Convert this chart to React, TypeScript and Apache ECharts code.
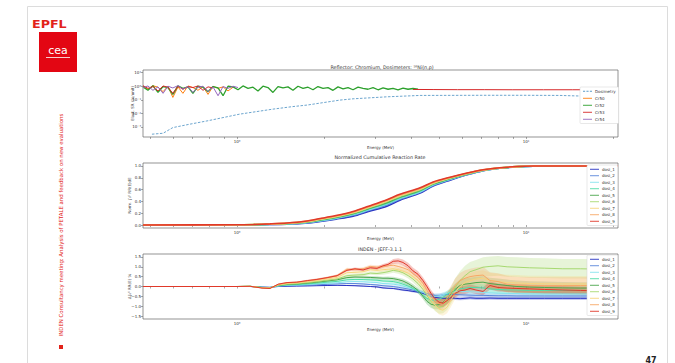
import React, { useEffect, useRef } from 'react';
import * as echarts from 'echarts';

const FONT = 'DejaVu Sans';
const E_MIN = 0.473;
const E_MAX = 20.8;

// ---------- axis ticks ----------
const X_TICKS = [0.5, 0.6, 0.7, 0.8, 0.9, 1, 2, 3, 4, 5, 6, 7, 8, 9, 10, 20];
const X_LABELS = [1, 10];
const Y1_TICKS = [0.001, 0.01, 0.1, 1, 10];
const Y2_TICKS = [0, 0.2, 0.4, 0.6, 0.8, 1.0];
const Y3_TICKS = [-1.5, -1.0, -0.5, 0, 0.5, 1.0, 1.5];

// ---------- chart 1 : Reflector Chromium ----------
const DOSI_E = [0.508, 0.555, 0.6, 0.688, 0.787, 1.02, 1.33, 1.56, 1.75, 2.27, 2.52, 3.3, 4.3, 6.9, 10, 13.1, 15.4, 18, 20.8];
const DOSI_V = [2.9e-4, 3.4e-4, 8.9e-4, 1.6e-3, 2.75e-3, 8.7e-3, 0.0204, 0.0316, 0.041, 0.095, 0.118, 0.166, 0.21, 0.215, 0.215, 0.21, 0.19, 0.175, 0.165];
const E1 = [0.473, 0.492, 0.512, 0.533, 0.555, 0.577, 0.6, 0.625, 0.65, 0.677, 0.704, 0.733, 0.763, 0.794, 0.826, 0.86, 0.895, 0.931, 0.969, 1.008,
  1.049, 1.092, 1.136, 1.182, 1.23, 1.28, 1.332, 1.386, 1.443, 1.501, 1.562, 1.626, 1.692, 1.761, 1.832, 1.906, 1.984, 2.065, 2.149, 2.236,
  2.327, 2.422, 2.52, 2.623, 2.729, 2.84, 2.956, 3.076, 3.201, 3.331, 3.466, 3.607, 3.753, 3.906, 4.064, 4.229];
const CR52 = [0.9, 0.5, 1.1, 0.35, 0.95, 0.8, 0.25, 1.05, 0.7, 0.9, 0.3, 1.0, 0.85, 0.4, 0.95, 0.75, 0.2, 1.0, 0.9, 0.55,
  1.05, 0.7, 0.85, 0.45, 1.0, 0.8, 0.35, 0.95, 0.75, 0.9, 0.5, 1.0, 0.7, 0.85, 0.55, 0.95, 0.7, 0.8, 0.5, 0.9,
  0.65, 0.8, 0.55, 0.85, 0.7, 0.6, 0.8, 0.55, 0.75, 0.6, 0.7, 0.55, 0.72, 0.6, 0.68, 0.6];
const CR50 = [1.0, 0.6, 1.1, 0.85, 0.4, 1.0, 0.15, 0.9, 0.3, 1.05, 0.8, 0.5, 0.95, 0.25, 1.0, 0.7, 0.9, 0.45, 0.85];
const CR54 = [0.8, 1.05, 0.5, 0.9, 0.3, 1.0, 0.75, 1.1, 0.6, 0.95, 0.35, 0.85, 1.0, 0.4, 0.9, 0.2, 0.95, 0.7, 1.0, 0.8];
const CR53_LOW = [1.1, 0.7, 0.95, 0.45, 1.05, 0.85, 0.3, 1.0, 0.6, 0.95, 0.8, 1.05, 0.5, 0.9, 0.75];
const CR53_TAIL_E = [4.064, 4.8, 5.8, 7.2, 9.0, 11.5, 14.5, 18.0, 20.8];
const CR53_TAIL = [0.58, 0.57, 0.56, 0.56, 0.55, 0.55, 0.55, 0.55, 0.55];

// ---------- chart 2 : normalized cumulative reaction rate ----------
const E2 = [0.473, 1.0, 1.14, 1.3, 1.49, 1.72, 1.94, 2.2, 2.52, 2.85, 3.3, 3.66, 4.3, 4.77, 5.46, 6.25, 7.1, 8.1, 9.3, 10.6, 13.0, 20.8];
const CUM1 = [0, 0, 0.003, 0.008, 0.015, 0.03, 0.06, 0.1, 0.15, 0.23, 0.32, 0.42, 0.54, 0.66, 0.76, 0.85, 0.92, 0.96, 0.985, 0.997, 1.0, 1.0];
const CUM2 = [0, 0.001, 0.004, 0.01, 0.018, 0.035, 0.067, 0.109, 0.165, 0.245, 0.34, 0.436, 0.553, 0.671, 0.768, 0.854, 0.921, 0.962, 0.986, 0.997, 1.0, 1.0];
const CUM3 = [0, 0.002, 0.005, 0.011, 0.02, 0.04, 0.074, 0.117, 0.177, 0.258, 0.357, 0.45, 0.565, 0.681, 0.776, 0.858, 0.923, 0.963, 0.987, 0.997, 1.0, 1.0];
const CUM4 = [0, 0.002, 0.006, 0.013, 0.023, 0.045, 0.081, 0.125, 0.186, 0.27, 0.37, 0.462, 0.576, 0.689, 0.782, 0.862, 0.925, 0.964, 0.987, 0.997, 1.0, 1.0];
const CUM5 = [0, 0.003, 0.007, 0.014, 0.026, 0.049, 0.087, 0.132, 0.195, 0.28, 0.382, 0.473, 0.587, 0.697, 0.788, 0.866, 0.927, 0.965, 0.988, 0.998, 1.0, 1.0];
const CUM6 = [0, 0.004, 0.008, 0.016, 0.028, 0.053, 0.093, 0.139, 0.204, 0.29, 0.395, 0.485, 0.598, 0.705, 0.794, 0.87, 0.929, 0.966, 0.988, 0.998, 1.0, 1.0];
const CUM7 = [0, 0.004, 0.009, 0.017, 0.03, 0.057, 0.099, 0.146, 0.213, 0.3, 0.408, 0.496, 0.608, 0.712, 0.799, 0.873, 0.93, 0.967, 0.989, 0.998, 1.0, 1.0];
const CUM8 = [0, 0.005, 0.01, 0.019, 0.033, 0.062, 0.105, 0.153, 0.222, 0.31, 0.42, 0.508, 0.62, 0.72, 0.805, 0.876, 0.933, 0.968, 0.989, 0.998, 1.0, 1.0];
const CUM9 = [0, 0.005, 0.01, 0.02, 0.035, 0.065, 0.11, 0.16, 0.23, 0.32, 0.43, 0.52, 0.63, 0.73, 0.81, 0.88, 0.935, 0.97, 0.99, 0.998, 1.0, 1.0];

// ---------- chart 3 : INDEN - JEFF-3.1.1 ----------
const E3 = [0.473, 1.0, 1.11, 1.22, 1.30, 1.39, 1.49, 1.61, 1.75, 1.89, 2.05, 2.22, 2.40, 2.56, 2.73, 2.89, 3.05, 3.20, 3.33, 3.47,
  3.61, 3.75, 3.91, 4.06, 4.23, 4.40, 4.54, 4.69, 4.84, 5.00, 5.16, 5.33, 5.50, 5.68, 5.91, 6.15, 6.40, 6.71, 7.10, 7.50,
  8.00, 8.60, 9.30, 10.3, 11.6, 13.4, 15.4, 18.0, 20.8];
const D1 = [0, 0, 0, -0.03, -0.04, 0, 0.01, 0.02, 0.03, 0.04, 0.05, 0.06, 0.05, 0.04, 0.02, 0, -0.02, -0.07, -0.09, -0.1,
  -0.14, -0.18, -0.21, -0.25, -0.28, -0.35, -0.42, -0.48, -0.55, -0.58, -0.6, -0.6, -0.58, -0.6, -0.62, -0.6, -0.58, -0.6, -0.6, -0.59,
  -0.6, -0.6, -0.6, -0.6, -0.6, -0.6, -0.6, -0.6, -0.6];
const D2 = [0, 0, 0, -0.03, -0.05, 0.02, 0.04, 0.05, 0.07, 0.09, 0.11, 0.13, 0.15, 0.15, 0.13, 0.1, 0.08, 0.04, 0.02, 0,
  -0.04, -0.08, -0.13, -0.18, -0.24, -0.3, -0.36, -0.42, -0.45, -0.45, -0.43, -0.4, -0.4, -0.41, -0.42, -0.43, -0.44, -0.45, -0.45, -0.46,
  -0.47, -0.47, -0.48, -0.48, -0.48, -0.48, -0.48, -0.48, -0.48];
const D3 = [0, 0, 0.01, -0.04, -0.05, 0.03, 0.06, 0.07, 0.1, 0.13, 0.16, 0.19, 0.24, 0.25, 0.24, 0.22, 0.2, 0.15, 0.14, 0.12,
  0.08, 0.02, -0.05, -0.12, -0.2, -0.3, -0.4, -0.48, -0.5, -0.48, -0.42, -0.35, -0.3, -0.27, -0.25, -0.25, -0.27, -0.28, -0.3, -0.32,
  -0.34, -0.35, -0.36, -0.37, -0.38, -0.38, -0.38, -0.38, -0.38];
const D4 = [0, 0, 0.01, -0.04, -0.06, 0.04, 0.08, 0.1, 0.13, 0.17, 0.22, 0.26, 0.34, 0.36, 0.35, 0.34, 0.32, 0.28, 0.27, 0.25,
  0.2, 0.12, 0.02, -0.1, -0.25, -0.45, -0.6, -0.68, -0.7, -0.65, -0.55, -0.4, -0.28, -0.2, -0.12, -0.08, -0.05, -0.05, -0.08, -0.12,
  -0.15, -0.17, -0.18, -0.2, -0.2, -0.2, -0.2, -0.2, -0.2];
const D5 = [0, 0, 0.01, -0.05, -0.07, 0.06, 0.1, 0.13, 0.17, 0.22, 0.28, 0.34, 0.45, 0.48, 0.47, 0.46, 0.44, 0.42, 0.42, 0.4,
  0.35, 0.28, 0.15, 0, -0.2, -0.5, -0.75, -0.9, -0.95, -0.92, -0.8, -0.6, -0.35, -0.15, 0.05, 0.12, 0.15, 0.2, 0.22, 0.15,
  0.1, 0.05, 0, -0.03, -0.05, -0.07, -0.08, -0.08, -0.08];
const D6 = [0, 0, 0.01, -0.06, -0.07, 0.07, 0.12, 0.15, 0.2, 0.25, 0.32, 0.38, 0.55, 0.58, 0.6, 0.68, 0.66, 0.7, 0.75, 0.82,
  0.78, 0.7, 0.55, 0.38, 0.15, -0.15, -0.45, -0.75, -0.95, -1.05, -1.0, -0.8, -0.45, -0.05, 0.3, 0.55, 0.75, 0.85, 0.98, 1.02,
  1.05, 1.0, 0.98, 0.95, 0.93, 0.9, 0.9, 0.88, 0.88];
const D7 = [0, 0, 0.01, -0.06, -0.08, 0.08, 0.15, 0.18, 0.24, 0.3, 0.38, 0.46, 0.7, 0.72, 0.75, 0.85, 0.82, 0.85, 0.88, 0.9,
  0.85, 0.78, 0.68, 0.5, 0.3, 0, -0.35, -0.7, -0.95, -1.15, -1.2, -1.05, -0.7, -0.3, 0, 0.2, 0.3, 0.38, 0.42, 0.3,
  0.25, 0.2, 0.18, 0.15, 0.14, 0.13, 0.13, 0.13, 0.13];
const D8 = [0, 0, 0.01, -0.07, -0.09, 0.1, 0.18, 0.21, 0.28, 0.35, 0.44, 0.55, 0.88, 0.85, 0.9, 1.02, 0.98, 1.0, 1.05, 1.08,
  1.02, 0.95, 0.85, 0.65, 0.45, 0.15, -0.2, -0.5, -0.75, -0.88, -0.85, -0.6, -0.3, 0.05, 0.3, 0.42, 0.5, 0.55, 0.58, 0.3,
  0.25, 0.12, 0.08, 0.06, 0.05, 0.05, 0.05, 0.05, 0.05];
const D9 = [0, 0, 0.01, -0.08, -0.1, 0.12, 0.2, 0.22, 0.3, 0.36, 0.45, 0.55, 0.82, 0.9, 0.84, 0.95, 0.92, 1.05, 1.12, 1.28,
  1.3, 1.22, 1.05, 0.8, 0.62, 0.3, 0, -0.35, -0.62, -0.8, -0.85, -0.72, -0.55, -0.35, -0.22, -0.18, -0.1, -0.18, -0.25, 0.05,
  -0.05, -0.08, -0.1, -0.12, -0.15, -0.18, -0.2, -0.22, -0.22];
const ERR1 = [0, 0, 0, 0.01, 0.01, 0.01, 0.01, 0.01, 0.02, 0.02, 0.02, 0.02, 0.03, 0.03, 0.03, 0.03, 0.04, 0.04, 0.04, 0.04,
  0.05, 0.05, 0.05, 0.06, 0.06, 0.06, 0.07, 0.07, 0.07, 0.08, 0.08, 0.08, 0.08, 0.08, 0.08, 0.08, 0.08, 0.08, 0.08, 0.08,
  0.08, 0.08, 0.08, 0.08, 0.08, 0.08, 0.08, 0.08, 0.08];
const ERR2 = [0, 0, 0, 0.01, 0.01, 0.01, 0.01, 0.02, 0.02, 0.02, 0.03, 0.03, 0.03, 0.03, 0.04, 0.04, 0.04, 0.05, 0.05, 0.05,
  0.06, 0.06, 0.07, 0.07, 0.08, 0.08, 0.09, 0.09, 0.1, 0.1, 0.11, 0.11, 0.12, 0.12, 0.12, 0.12, 0.12, 0.12, 0.12, 0.12,
  0.12, 0.12, 0.12, 0.12, 0.12, 0.12, 0.12, 0.12, 0.12];
const ERR3 = [0, 0, 0.01, 0.01, 0.01, 0.01, 0.02, 0.02, 0.02, 0.03, 0.03, 0.03, 0.04, 0.04, 0.04, 0.05, 0.05, 0.05, 0.06, 0.06,
  0.07, 0.07, 0.08, 0.08, 0.09, 0.1, 0.1, 0.11, 0.12, 0.12, 0.13, 0.14, 0.14, 0.15, 0.15, 0.15, 0.15, 0.15, 0.15, 0.15,
  0.15, 0.15, 0.15, 0.15, 0.15, 0.15, 0.15, 0.15, 0.15];
const ERR4 = [0, 0, 0.01, 0.01, 0.01, 0.02, 0.02, 0.03, 0.03, 0.03, 0.04, 0.04, 0.05, 0.05, 0.05, 0.06, 0.06, 0.07, 0.07, 0.08,
  0.08, 0.09, 0.1, 0.1, 0.11, 0.12, 0.13, 0.14, 0.15, 0.16, 0.17, 0.18, 0.19, 0.2, 0.2, 0.2, 0.2, 0.2, 0.2, 0.2,
  0.2, 0.2, 0.2, 0.2, 0.2, 0.2, 0.2, 0.2, 0.2];
const ERR5 = [0, 0, 0.01, 0.01, 0.02, 0.02, 0.03, 0.03, 0.04, 0.04, 0.05, 0.05, 0.06, 0.06, 0.07, 0.07, 0.08, 0.08, 0.09, 0.09,
  0.1, 0.11, 0.12, 0.13, 0.14, 0.15, 0.17, 0.19, 0.21, 0.23, 0.25, 0.27, 0.28, 0.29, 0.3, 0.3, 0.3, 0.3, 0.3, 0.3,
  0.3, 0.3, 0.3, 0.3, 0.3, 0.3, 0.3, 0.3, 0.3];
const ERR6 = [0, 0, 0.01, 0.02, 0.02, 0.03, 0.03, 0.04, 0.04, 0.05, 0.05, 0.06, 0.07, 0.07, 0.08, 0.08, 0.09, 0.1, 0.11, 0.12,
  0.13, 0.14, 0.15, 0.17, 0.19, 0.21, 0.24, 0.27, 0.3, 0.33, 0.36, 0.39, 0.42, 0.45, 0.48, 0.5, 0.5, 0.5, 0.5, 0.5,
  0.5, 0.5, 0.5, 0.5, 0.5, 0.5, 0.5, 0.5, 0.5];
const ERR7 = [0, 0, 0.01, 0.02, 0.02, 0.03, 0.03, 0.04, 0.04, 0.05, 0.05, 0.06, 0.07, 0.07, 0.08, 0.08, 0.09, 0.1, 0.1, 0.11,
  0.12, 0.13, 0.14, 0.15, 0.17, 0.19, 0.21, 0.23, 0.25, 0.27, 0.29, 0.31, 0.33, 0.35, 0.37, 0.38, 0.38, 0.4, 0.4, 0.4,
  0.4, 0.4, 0.4, 0.4, 0.4, 0.4, 0.4, 0.4, 0.4];
const ERR8 = [0, 0, 0.01, 0.02, 0.02, 0.03, 0.03, 0.04, 0.04, 0.05, 0.06, 0.06, 0.07, 0.08, 0.08, 0.09, 0.1, 0.1, 0.11, 0.12,
  0.13, 0.14, 0.15, 0.16, 0.18, 0.2, 0.22, 0.24, 0.26, 0.28, 0.3, 0.32, 0.34, 0.36, 0.38, 0.4, 0.4, 0.42, 0.42, 0.42,
  0.42, 0.42, 0.42, 0.42, 0.42, 0.42, 0.42, 0.42, 0.42];
const ERR9 = [0, 0, 0.01, 0.02, 0.02, 0.03, 0.03, 0.04, 0.04, 0.05, 0.05, 0.06, 0.06, 0.07, 0.07, 0.08, 0.08, 0.09, 0.1, 0.12,
  0.14, 0.15, 0.15, 0.16, 0.16, 0.17, 0.18, 0.18, 0.19, 0.2, 0.2, 0.2, 0.2, 0.2, 0.2, 0.2, 0.2, 0.2, 0.2, 0.2,
  0.2, 0.2, 0.2, 0.2, 0.2, 0.2, 0.2, 0.2, 0.2];

const DOSI_NAMES = ['dosi_1', 'dosi_2', 'dosi_3', 'dosi_4', 'dosi_5', 'dosi_6', 'dosi_7', 'dosi_8', 'dosi_9'];
const CR_NAMES = ['Dosimetry', 'Cr50', 'Cr52', 'Cr53', 'Cr54'];
const CUMS = [CUM1, CUM2, CUM3, CUM4, CUM5, CUM6, CUM7, CUM8, CUM9];
const DELTAS = [D1, D2, D3, D4, D5, D6, D7, D8, D9];
const ERRS = [ERR1, ERR2, ERR3, ERR4, ERR5, ERR6, ERR7, ERR8, ERR9];

const DOSI_COLORS = ['#2833c2', '#5a86da', '#86e3ee', '#4edca6', '#4aa64c', '#a6d870', '#f6d57e', '#f7a866', '#e0392a'];
const CR_COLORS = ['#5b9bc8', '#ff7f0e', '#2ca02c', '#d62728', '#9467bd'];

const SUP: Record<string, string> = { '-': '⁻', '0': '⁰', '1': '¹', '2': '²', '3': '³', '4': '⁴', '5': '⁵' };
const pow10Label = (v: number) => {
  const p = Math.round(Math.log10(v));
  return '10' + String(p).split('').map((c) => SUP[c] || c).join('');
};
const decLabel = (v: number) => (v < 0 ? '−' : '') + Math.abs(v).toFixed(1);
const pairs = (xs: number[], ys: (number | null)[]) => ys.map((y, i) => [xs[i], y]);

const TXT = { fontFamily: FONT, color: '#333' };
const LINE_ICON = 'path://M0,0h10v1h-10z';
const DASH_ICON = 'path://M0,0h2.5v1h-2.5z M4,0h2.5v1h-2.5z M8,0h2.5v1h-2.5z';

function xAxisFor(i: number) {
  return {
    type: 'log', logBase: 10, gridIndex: i, min: E_MIN, max: E_MAX,
    name: 'Energy (MeV)', nameLocation: 'middle', nameGap: 8.5, nameMoveOverlap: false,
    nameTextStyle: { ...TXT, fontSize: 4 },
    axisLine: { show: false }, splitLine: { show: false }, minorTick: { show: false },
    axisTick: { show: true, length: 2, customValues: X_TICKS, lineStyle: { color: '#555', width: 0.5 } },
    axisLabel: { customValues: X_LABELS, formatter: pow10Label, fontSize: 4, margin: 2, ...TXT },
  };
}

function yAxisFor(i: number, type: string, min: number, max: number, ticks: number[], fmt: (v: number) => string, name: string, gap: number) {
  return {
    type, gridIndex: i, min, max, name, nameLocation: 'middle', nameGap: gap, nameRotate: 90, nameMoveOverlap: false,
    nameTextStyle: { ...TXT, fontSize: 4 },
    axisLine: { show: false }, splitLine: { show: false },
    axisTick: { show: true, length: 2, customValues: ticks, lineStyle: { color: '#555', width: 0.5 } },
    axisLabel: { customValues: ticks, formatter: fmt, fontSize: 4, margin: 2, ...TXT },
  };
}

function legendFor(names: any[], left: number, top: number, gap: number) {
  return {
    data: names, orient: 'vertical', left, top, icon: LINE_ICON, itemWidth: 9, itemHeight: 1.2, itemGap: gap,
    padding: [2, 3], backgroundColor: '#fff', borderColor: '#d0d0d0', borderWidth: 0.5, borderRadius: 1,
    textStyle: { ...TXT, fontSize: 4, lineHeight: 4.5, padding: [0, 0, 0, -2] },
  };
}

export default function App() {
  const ref = useRef<HTMLDivElement>(null);
  useEffect(() => {
    if (!ref.current) return;
    const chart = echarts.init(ref.current, undefined, { renderer: 'svg' });

    const series: any[] = [];
    // chart 1
    series.push({ name: 'Dosimetry', type: 'line', xAxisIndex: 0, yAxisIndex: 0, data: pairs(DOSI_E, DOSI_V), symbol: 'none',
      lineStyle: { color: CR_COLORS[0], width: 0.9, type: [2.5, 1.5] }, itemStyle: { color: CR_COLORS[0] } });
    series.push({ name: 'Cr50', type: 'line', xAxisIndex: 0, yAxisIndex: 0, data: pairs(E1, CR50), symbol: 'none',
      lineStyle: { color: CR_COLORS[1], width: 1.0 }, itemStyle: { color: CR_COLORS[1] } });
    series.push({ name: 'Cr52', type: 'line', xAxisIndex: 0, yAxisIndex: 0, data: pairs(E1, CR52), symbol: 'none',
      lineStyle: { color: CR_COLORS[2], width: 1.3 }, itemStyle: { color: CR_COLORS[2] } });
    series.push({ name: 'Cr53', type: 'line', xAxisIndex: 0, yAxisIndex: 0, connectNulls: false,
      data: [...pairs(E1, CR53_LOW), [2.0, null], ...pairs(CR53_TAIL_E, CR53_TAIL)], symbol: 'none',
      lineStyle: { color: CR_COLORS[3], width: 1.0 }, itemStyle: { color: CR_COLORS[3] } });
    series.push({ name: 'Cr54', type: 'line', xAxisIndex: 0, yAxisIndex: 0, data: pairs(E1, CR54), symbol: 'none',
      lineStyle: { color: CR_COLORS[4], width: 1.0 }, itemStyle: { color: CR_COLORS[4] } });
    // chart 2
    CUMS.forEach((vals, k) => {
      series.push({ name: DOSI_NAMES[k], type: 'line', xAxisIndex: 1, yAxisIndex: 1, data: pairs(E2, vals), symbol: 'none',
        smooth: 0.3, lineStyle: { color: DOSI_COLORS[k], width: 1.6 }, itemStyle: { color: DOSI_COLORS[k] } });
    });
    // chart 3 bands
    DELTAS.forEach((vals, k) => {
      const errs = ERRS[k];
      series.push({
        type: 'custom', xAxisIndex: 2, yAxisIndex: 2, silent: true, z: 1, clip: true,
        data: [[E3[0], 0]], encode: { x: 0, y: 1 },
        renderItem: (_p: any, api: any) => {
          const up = E3.map((e, i) => api.coord([e, vals[i] + errs[i]]));
          const lo = E3.map((e, i) => api.coord([e, vals[i] - errs[i]])).reverse();
          return { type: 'polygon', shape: { points: up.concat(lo) }, style: { fill: DOSI_COLORS[k], opacity: 0.27 } };
        },
      });
    });
    DELTAS.forEach((vals, k) => {
      series.push({ name: DOSI_NAMES[k], type: 'line', xAxisIndex: 2, yAxisIndex: 2, z: 3, data: pairs(E3, vals), symbol: 'none',
        lineStyle: { color: DOSI_COLORS[k], width: 1 }, itemStyle: { color: DOSI_COLORS[k] } });
    });

    const texts = (text: string, x: number, y: number, size: number, extra: any = {}) => ({
      type: 'text', x, y, silent: true, ...extra,
      style: { text, x: 0, y: 0, align: 'center', verticalAlign: 'middle', fontSize: size, fontFamily: FONT, fill: '#333', ...(extra.style || {}) },
    });

    const crLegend = CR_NAMES.map((n) => (n === 'Dosimetry' ? { name: n, icon: DASH_ICON } : n));

    chart.setOption({
      animation: false,
      backgroundColor: '#fff',
      grid: [
        { left: 143, top: 70, width: 475, height: 67, show: true, borderColor: '#666', borderWidth: 0.7 },
        { left: 143, top: 163, width: 475, height: 65, show: true, borderColor: '#666', borderWidth: 0.7 },
        { left: 143, top: 254, width: 475, height: 65, show: true, borderColor: '#666', borderWidth: 0.7 },
      ],
      xAxis: [xAxisFor(0), xAxisFor(1), xAxisFor(2)],
      yAxis: [
        yAxisFor(0, 'log', 1.8e-4, 15.8, Y1_TICKS, pow10Label, 'Elast. SR (%/unit)', 9),
        yAxisFor(1, 'value', -0.05, 1.05, Y2_TICKS, (v: number) => v.toFixed(1), 'Norm. ∫₀ᴱ RR(E)dE', 12),
        yAxisFor(2, 'value', -1.65, 1.65, Y3_TICKS, decLabel, 'Δ∫₀ᴱ RR(E) %', 12),
      ],
      legend: [
        legendFor(crLegend, 580, 87, 2.5),
        legendFor(DOSI_NAMES, 587, 165, 2),
        legendFor(DOSI_NAMES, 587, 255, 2),
      ],
      series,
      graphic: {
        elements: [
          { type: 'rect', silent: true, shape: { x: 27.5, y: 6.5, width: 640, height: 360 }, style: { fill: 'none', stroke: '#dcdcdc', lineWidth: 1 } },
          texts('EPFL', 58, 24, 11, { scaleX: 1.15, originX: 58, originY: 24, style: { fill: '#e2231a', fontWeight: 'bold' } }),
          { type: 'rect', silent: true, shape: { x: 39, y: 32, width: 38, height: 40 }, style: { fill: '#e30613' } },
          texts('cea', 58, 50, 11, { style: { fill: '#fff' } }),
          { type: 'line', silent: true, shape: { x1: 46, y1: 57.5, x2: 70, y2: 57.5 }, style: { stroke: '#fff', lineWidth: 0.8 } },
          texts('INDEN Consultancy meeting: Analysis of PETALE and feedback on new evaluations', 61, 225, 5.4,
            { rotation: Math.PI / 2, style: { fill: '#e2231a' } }),
          { type: 'rect', silent: true, shape: { x: 59, y: 345, width: 4, height: 4 }, style: { fill: '#e2231a' } },
          texts('47', 651, 360, 8, { style: { fill: '#222', fontWeight: 'bold' } }),
          texts('Reflector: Chromium, Dosimeters: ⁵⁸Ni(n,p)', 382, 67, 4.8),
          texts('Normalized Cumulative Reaction Rate', 380, 157.5, 4.8),
          texts('INDEN - JEFF-3.1.1', 380, 249, 4.8),
        ],
      },
    });
    return () => chart.dispose();
  }, []);
  return <div ref={ref} style={{ position: 'fixed', left: 0, top: 0, width: 675, height: 363, background: '#fff' }} />;
}
